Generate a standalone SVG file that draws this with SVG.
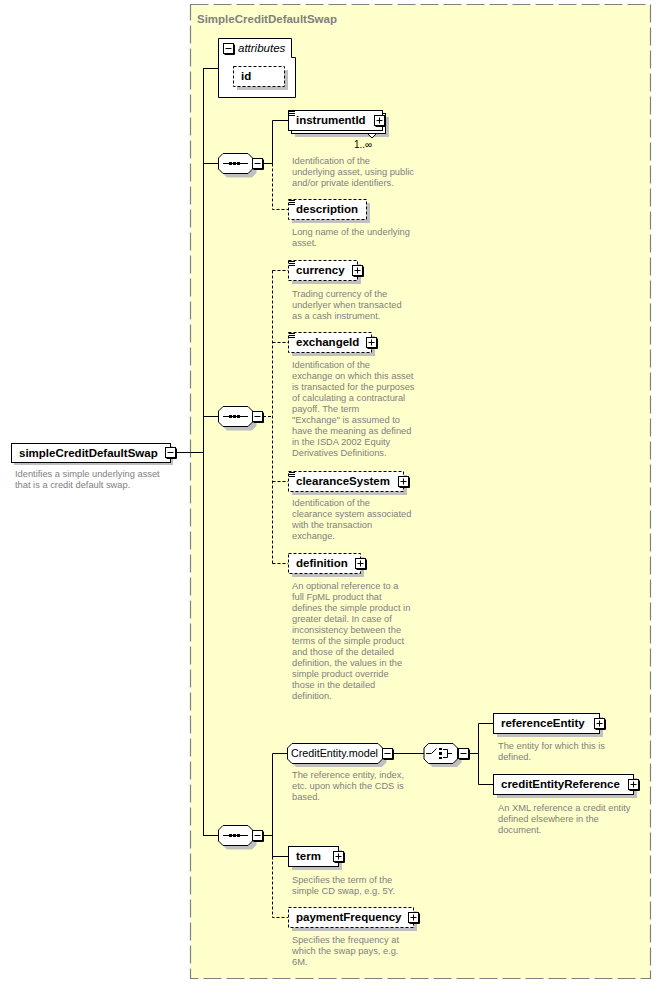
<svg xmlns="http://www.w3.org/2000/svg" xmlns:xlink="http://www.w3.org/1999/xlink" width="661" height="984" viewBox="0 0 661 984">
<style>
.bx{fill:#fff;stroke:#000;stroke-width:1}
.opt{stroke-dasharray:3,2}
.sh{fill:#c0c0c0}
.nm{font-family:"Liberation Sans",Arial,sans-serif;font-weight:bold;font-size:11.5px;fill:#000}
.ds{font-family:"Liberation Sans",Arial,sans-serif;font-size:9.3px;fill:#808080}
.ln{stroke:#000;stroke-width:1;fill:none}
.dl{stroke-dasharray:3,2}
.ic{stroke:#000;stroke-width:1;fill:none}
</style>
<defs>
<g id="plus"><path d="M1.5 11.5H11.5V1.5" stroke="#000" fill="none"/><rect x="0.5" y="0.5" width="10" height="10" fill="#fff" stroke="#000"/><path d="M2.5 5.5h6M5.5 2.5v6" stroke="#000"/></g>
<g id="minus"><path d="M1.5 11.5H11.5V1.5" stroke="#000" fill="none"/><rect x="0.5" y="0.5" width="10" height="10" fill="#fff" stroke="#000"/><path d="M2.5 5.5h6" stroke="#000"/></g>
<g id="lines"><path d="M1 1.5h6M1 3.5h6M1 5.5h6" stroke="#000"/></g>
<polygon id="oct" points="5,0.5 30,0.5 34.5,5 34.5,16 30,20.5 5,20.5 0.5,16 0.5,5"/>
</defs>
<rect x="190.5" y="4.5" width="460" height="974" fill="#ffffcc" stroke="#808080" stroke-width="1.2" stroke-dasharray="18,5"/>
<text x="197" y="23" font-family="Liberation Sans,Arial,sans-serif" font-weight="bold" font-size="11.5" fill="#808080">SimpleCreditDefaultSwap</text>

<g id="connectors">
<path class="ln" d="M176 452.5H203.5M203.5 68V835.5M203 68.5H218M203 163.5H218M203 416.5H218M203 835.5H218"/>
<path class="ln" d="M263 163.5H272.5M272.5 120.5V163.5M272.5 120.5H288"/>
<path class="ln dl" d="M272.5 163.5V209.5H288"/>
<path class="ln dl" d="M263 416.5H272.5M272.5 270.5V563.5M272.5 270.5H288M272.5 342.5H288M272.5 481.5H288M272.5 563.5H288"/>
<path class="ln" d="M263 835.5H272.5M272.5 753.5V856.5M272.5 753.5H287M272.5 856.5H288"/>
<path class="ln dl" d="M272.5 856.5V917.5H288"/>
<path class="ln" d="M393 753.5H424M469 753.5H478.5M478.5 723.5V784.5M478.5 723.5H493M478.5 784.5H493"/>
</g>

<g id="simpleCreditDefaultSwap">
<rect class="sh" x="14" y="446" width="159" height="19"/>
<rect class="bx" x="11.5" y="443.5" width="159" height="19"/>
<text class="nm" x="19" y="457">simpleCreditDefaultSwap</text>
<use xlink:href="#minus" x="165" y="447"/>
<text class="ds" x="15" y="477">Identifies a simple underlying asset</text>
<text class="ds" x="15" y="488">that is a credit default swap.</text>
</g>

<g id="attributes">
<polygon class="bx" points="218.5,38.5 291.5,38.5 291.5,57.5 295.5,57.5 295.5,97.5 218.5,97.5"/>
<use xlink:href="#minus" x="223" y="43"/>
<text x="238" y="52" font-family="Liberation Sans,Arial,sans-serif" font-style="italic" font-size="11.5">attributes</text>
</g>
<g id="id">
<rect class="sh" x="237" y="70" width="51" height="20"/>
<rect class="bx opt" x="233.5" y="66.5" width="51" height="20"/>
<text class="nm" x="241" y="80">id</text>
</g>

<g id="seq1">
<use xlink:href="#oct" x="222" y="157" class="sh"/>
<use xlink:href="#oct" x="218" y="153" class="bx"/>
<path class="ic" d="M223 163.5H248"/>
<rect x="229" y="162" width="3" height="3"/><rect x="233" y="162" width="3" height="3"/><rect x="237" y="162" width="3" height="3"/>
<use xlink:href="#minus" x="252" y="158"/>
</g>
<g id="seq2">
<use xlink:href="#oct" x="222" y="410" class="sh"/>
<use xlink:href="#oct" x="218" y="406" class="bx"/>
<path class="ic" d="M223 416.5H248"/>
<rect x="229" y="415" width="3" height="3"/><rect x="233" y="415" width="3" height="3"/><rect x="237" y="415" width="3" height="3"/>
<use xlink:href="#minus" x="252" y="411"/>
</g>
<g id="seq3">
<use xlink:href="#oct" x="222" y="829" class="sh"/>
<use xlink:href="#oct" x="218" y="825" class="bx"/>
<path class="ic" d="M223 835.5H248"/>
<rect x="229" y="834" width="3" height="3"/><rect x="233" y="834" width="3" height="3"/><rect x="237" y="834" width="3" height="3"/>
<use xlink:href="#minus" x="252" y="830"/>
</g>

<g id="instrumentId">
<rect class="sh" x="295" y="117" width="94" height="20"/>
<rect class="bx" x="291.5" y="113.5" width="94" height="20"/>
<rect class="bx" x="288.5" y="110.5" width="94" height="20"/>
<polygon points="367.5,133.5 376.5,133.5 372,138" fill="#fff" stroke="#000"/>
<use xlink:href="#lines" x="288" y="110"/>
<text class="nm" x="296" y="124">instrumentId</text>
<use xlink:href="#plus" x="374" y="115"/>
<text x="354" y="148" font-family="Liberation Sans,Arial,sans-serif" font-size="10">1..∞</text>
<text class="ds" x="292" y="164">Identification of the</text>
<text class="ds" x="292" y="175">underlying asset, using public</text>
<text class="ds" x="292" y="186">and/or private identifiers.</text>
</g>

<g id="description">
<rect class="sh" x="292" y="203" width="78" height="20"/>
<rect class="bx opt" x="288.5" y="199.5" width="78" height="20"/>
<use xlink:href="#lines" x="288" y="199"/>
<text class="nm" x="296" y="213">description</text>
<text class="ds" x="292" y="235">Long name of the underlying</text>
<text class="ds" x="292" y="246">asset.</text>
</g>

<g id="currency">
<rect class="sh" x="292" y="264" width="69" height="20"/>
<rect class="bx opt" x="288.5" y="260.5" width="69" height="20"/>
<use xlink:href="#lines" x="288" y="260"/>
<text class="nm" x="296" y="274">currency</text>
<use xlink:href="#plus" x="352" y="265"/>
<text class="ds" x="292" y="297">Trading currency of the</text>
<text class="ds" x="292" y="308">underlyer when transacted</text>
<text class="ds" x="292" y="319">as a cash instrument.</text>
</g>

<g id="exchangeId">
<rect class="sh" x="292" y="336" width="83" height="20"/>
<rect class="bx opt" x="288.5" y="332.5" width="83" height="20"/>
<use xlink:href="#lines" x="288" y="332"/>
<text class="nm" x="296" y="346">exchangeId</text>
<use xlink:href="#plus" x="366" y="337"/>
<text class="ds" x="292" y="368">Identification of the</text>
<text class="ds" x="292" y="379">exchange on which this asset</text>
<text class="ds" x="292" y="390">is transacted for the purposes</text>
<text class="ds" x="292" y="401">of calculating a contractural</text>
<text class="ds" x="292" y="412">payoff. The term</text>
<text class="ds" x="292" y="423">"Exchange" is assumed to</text>
<text class="ds" x="292" y="434">have the meaning as defined</text>
<text class="ds" x="292" y="445">in the ISDA 2002 Equity</text>
<text class="ds" x="292" y="456">Derivatives Definitions.</text>
</g>

<g id="clearanceSystem">
<rect class="sh" x="292" y="475" width="115" height="20"/>
<rect class="bx opt" x="288.5" y="471.5" width="115" height="20"/>
<use xlink:href="#lines" x="288" y="471"/>
<text class="nm" x="296" y="485">clearanceSystem</text>
<use xlink:href="#plus" x="398" y="476"/>
<text class="ds" x="292" y="506">Identification of the</text>
<text class="ds" x="292" y="517">clearance system associated</text>
<text class="ds" x="292" y="528">with the transaction</text>
<text class="ds" x="292" y="539">exchange.</text>
</g>

<g id="definition">
<rect class="sh" x="292" y="557" width="72" height="20"/>
<rect class="bx opt" x="288.5" y="553.5" width="72" height="20"/>
<text class="nm" x="296" y="567">definition</text>
<use xlink:href="#plus" x="355" y="558"/>
<text class="ds" x="292" y="589">An optional reference to a</text>
<text class="ds" x="292" y="600">full FpML product that</text>
<text class="ds" x="292" y="611">defines the simple product in</text>
<text class="ds" x="292" y="622">greater detail. In case of</text>
<text class="ds" x="292" y="633">inconsistency between the</text>
<text class="ds" x="292" y="644">terms of the simple product</text>
<text class="ds" x="292" y="655">and those of the detailed</text>
<text class="ds" x="292" y="666">definition, the values in the</text>
<text class="ds" x="292" y="677">simple product override</text>
<text class="ds" x="292" y="688">those in the detailed</text>
<text class="ds" x="292" y="699">definition.</text>
</g>

<g id="CreditEntity.model">
<polygon class="sh" points="296,747 382,747 386.5,751.5 386.5,762.5 382,767 296,767 291.5,762.5 291.5,751.5"/>
<polygon class="bx" points="292,743.5 378,743.5 382.5,748 382.5,759 378,763.5 292,763.5 287.5,759 287.5,748"/>
<text x="291" y="757" font-family="Liberation Sans,Arial,sans-serif" font-size="11.5" textLength="87" lengthAdjust="spacingAndGlyphs">CreditEntity.model</text>
<use xlink:href="#minus" x="382" y="748"/>
<text class="ds" x="292" y="778">The reference entity, index,</text>
<text class="ds" x="292" y="789">etc. upon which the CDS is</text>
<text class="ds" x="292" y="800">based.</text>
</g>

<g id="choice">
<polygon class="sh" points="432.5,747 457,747 461.5,751.5 461.5,762.5 457,767 432.5,767 428,762.5 428,751.5"/>
<polygon class="bx" points="428.5,743.5 453,743.5 457.5,748 457.5,759 453,763.5 428.5,763.5 424,759 424,748"/>
<path class="ic" d="M426 753.5H431.5L436.5 748.5M443 749.5H447.5V757.5H443M447.5 753.5H452"/>
<rect x="439" y="748" width="3" height="2"/><rect x="439" y="752" width="3" height="3"/><rect x="439" y="757" width="3" height="2"/>
<use xlink:href="#minus" x="458" y="748"/>
</g>

<g id="referenceEntity">
<rect class="sh" x="497" y="717" width="106" height="20"/>
<rect class="bx" x="493.5" y="713.5" width="106" height="20"/>
<text class="nm" x="501" y="727">referenceEntity</text>
<use xlink:href="#plus" x="594" y="718"/>
<text class="ds" x="498" y="749">The entity for which this is</text>
<text class="ds" x="498" y="760">defined.</text>
</g>

<g id="creditEntityReference">
<rect class="sh" x="497" y="778" width="140" height="20"/>
<rect class="bx" x="493.5" y="774.5" width="140" height="20"/>
<text class="nm" x="501" y="788">creditEntityReference</text>
<use xlink:href="#plus" x="628" y="779"/>
<text class="ds" x="498" y="811">An XML reference a credit entity</text>
<text class="ds" x="498" y="822">defined elsewhere in the</text>
<text class="ds" x="498" y="833">document.</text>
</g>

<g id="term">
<rect class="sh" x="292" y="850" width="50" height="20"/>
<rect class="bx" x="288.5" y="846.5" width="50" height="20"/>
<text class="nm" x="296" y="860">term</text>
<use xlink:href="#plus" x="333" y="851"/>
<text class="ds" x="292" y="883">Specifies the term of the</text>
<text class="ds" x="292" y="894">simple CD swap, e.g. 5Y.</text>
</g>

<g id="paymentFrequency">
<rect class="sh" x="292" y="911" width="125" height="20"/>
<rect class="bx opt" x="288.5" y="907.5" width="125" height="20"/>
<text class="nm" x="296" y="921">paymentFrequency</text>
<use xlink:href="#plus" x="408" y="912"/>
<text class="ds" x="292" y="943">Specifies the frequency at</text>
<text class="ds" x="292" y="954">which the swap pays, e.g.</text>
<text class="ds" x="292" y="965">6M.</text>
</g>
</svg>
